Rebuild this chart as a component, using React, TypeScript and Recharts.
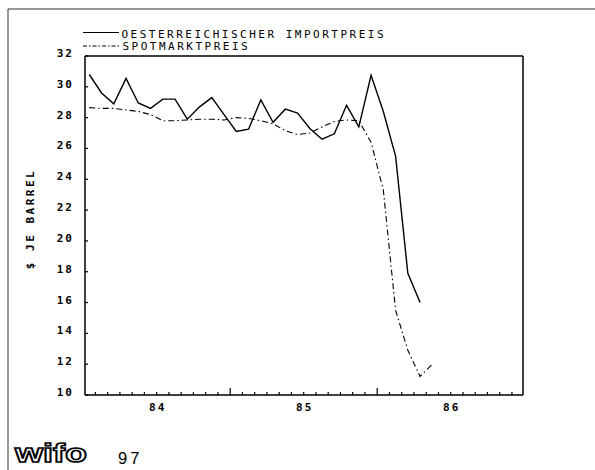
import { LineChart, Line, XAxis, YAxis, ReferenceLine } from 'recharts'

// monthly values from Jan 1984, $ per barrel
const importPrice = [
  30.8, 29.6, 28.9, 30.55, 28.95, 28.6, 29.2, 29.2, 27.9, 28.7, 29.3, 28.2,
  27.1, 27.25, 29.15, 27.7, 28.55, 28.3, 27.3, 26.6, 26.95, 28.8, 27.4, 30.75,
  28.4, 25.5, 17.9, 16.0,
]
const spotPrice = [
  28.65, 28.6, 28.6, 28.5, 28.4, 28.2, 27.8, 27.8, 27.85, 27.9, 27.9, 27.85,
  28.0, 27.95, 27.8, 27.6, 27.15, 26.9, 27.0, 27.4, 27.75, 27.85, 27.8, 26.4,
  23.3, 15.5, 12.9, 11.2, 12.0,
]
const yTicks = [10, 12, 14, 16, 18, 20, 22, 24, 26, 28, 30, 32]
const yearLabels = ['84', '85', '86']

const data = spotPrice.map((s, i) => ({ m: i, imp: importPrice[i] ?? null, spot: s }))
// month boundaries inside the plot
const monthEdges = Array.from({ length: 35 }, (_, k) => k + 0.5)

const FONT = '"DejaVu Sans Mono", monospace'

const XTick = ({ x, y, payload }: any) => {
  const v = payload.value as number
  const major = (v + 0.5) % 12 === 0
  const yr = (v - 5.5) / 12
  return (
    <g>
      <line x1={x} x2={x} y1={y} y2={y - (major ? 7 : 3)} stroke="#000" strokeWidth={1.2} />
      {Number.isInteger(yr) && yearLabels[yr] && (
        <text x={x + 1} y={y + 16} textAnchor="middle" fontFamily={FONT} fontSize={11}
          fontWeight={700} fill="#000" style={{ letterSpacing: '2px' }}>{yearLabels[yr]}</text>
      )}
    </g>
  )
}

const YTick = ({ x, y, payload }: any) => (
  <g>
    <line x1={x} x2={x + 3} y1={y} y2={y} stroke="#000" strokeWidth={1.2} />
    <text x={x - 11} y={y + 1} textAnchor="end" fontFamily={FONT} fontSize={11}
      fontWeight={700} fill="#000" style={{ letterSpacing: '2px' }}>{payload.value}</text>
  </g>
)

export default function App() {
  return (
    <div style={{ position: 'absolute', left: 0, top: 0, width: 595, height: 470, background: '#fff' }}>
      <LineChart width={595} height={470} data={data}
        margin={{ top: 56, right: 72, bottom: 45, left: 55 }}>
        <XAxis dataKey="m" type="number" domain={[-0.35, 35.4]} ticks={monthEdges} interval={0}
          tick={<XTick />} tickLine={false} tickSize={0} tickMargin={0} height={30}
          axisLine={{ stroke: '#000', strokeWidth: 1.5 }} allowDataOverflow />
        <YAxis type="number" domain={[10, 32]} ticks={yTicks} interval={0} width={30}
          tick={<YTick />} tickLine={false} tickSize={0} tickMargin={0}
          axisLine={{ stroke: '#000', strokeWidth: 1.5 }} allowDataOverflow />
        <ReferenceLine y={32} stroke="#000" strokeWidth={1.5} />
        <ReferenceLine x={35.4} stroke="#000" strokeWidth={1.5} />
        <Line dataKey="spot" type="linear" stroke="#000" strokeWidth={1.1}
          strokeDasharray="6 3 1.5 3" dot={false} isAnimationActive={false} />
        <Line dataKey="imp" type="linear" stroke="#000" strokeWidth={1.4}
          dot={false} isAnimationActive={false} connectNulls={false} />
      </LineChart>

      <svg width={595} height={470} style={{ position: 'absolute', left: 0, top: 0, pointerEvents: 'none' }}>
        {/* page frame */}
        <line x1={8} x2={595} y1={9} y2={9} stroke="#333" strokeWidth={1} />
        <line x1={8} x2={8} y1={9} y2={470} stroke="#333" strokeWidth={1} />

        {/* legend */}
        <line x1={83} x2={119} y1={32.5} y2={32.5} stroke="#000" strokeWidth={1.2} />
        <text x={121.5} y={37.5} fontFamily={FONT} fontSize={11} fill="#000"
          style={{ letterSpacing: '2.5px' }}>OESTERREICHISCHER IMPORTPREIS</text>
        <line x1={83} x2={120} y1={46} y2={46} stroke="#000" strokeWidth={1.1} strokeDasharray="4 2 1.5 2" />
        <text x={122.5} y={50} fontFamily={FONT} fontSize={11} fill="#000"
          style={{ letterSpacing: '2.5px' }}>SPOTMARKTPREIS</text>

        {/* y title */}
        <text x={34} y={219} transform="rotate(-90 34 219)" textAnchor="middle" fontFamily={FONT}
          fontSize={11} fontWeight={700} fill="#000" style={{ letterSpacing: '2.5px' }}>$ JE BARREL</text>

        {/* footer */}
        <text x={15} y={462} fontFamily='"Liberation Sans", sans-serif' fontSize={26} fontWeight={700}
          fill="#fff" stroke="#000" strokeWidth={1.5} textLength={72} lengthAdjust="spacingAndGlyphs">wifo</text>
        <text x={118} y={464} fontFamily='"Liberation Sans", sans-serif' fontSize={16.5}
          fill="#000" style={{ letterSpacing: '3px' }}>97</text>
      </svg>
    </div>
  )
}
